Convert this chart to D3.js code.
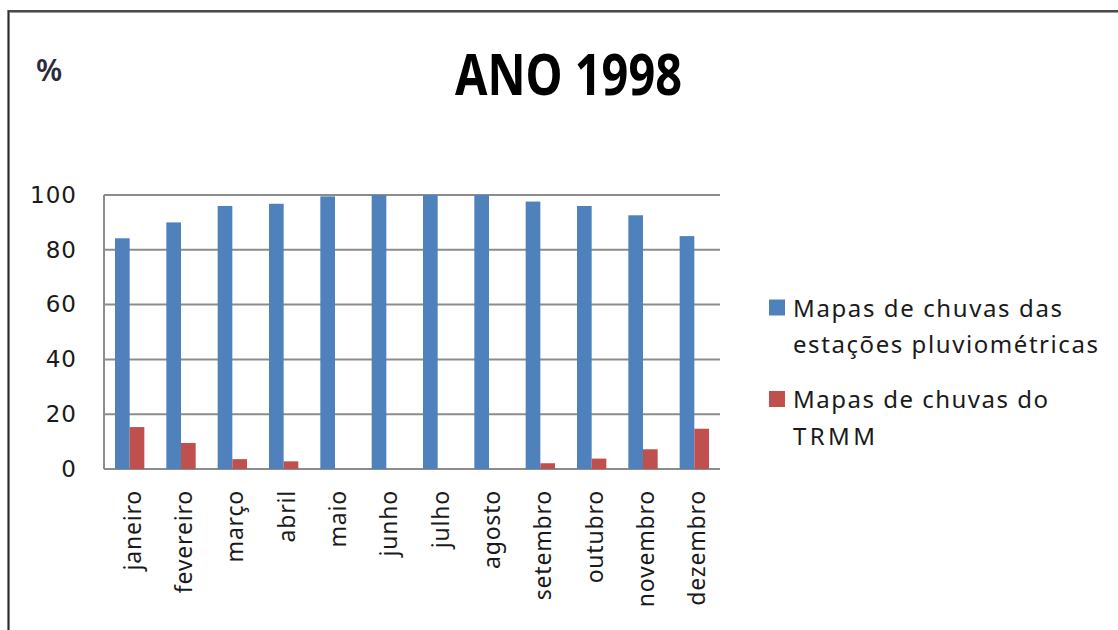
<!DOCTYPE html>
<html>
<head>
<meta charset="utf-8">
<script src="https://cdn.jsdelivr.net/npm/d3@7"></script>
<style>
  html, body { margin: 0; padding: 0; background: #fff; }
  svg { display: block; }
</style>
</head>
<body>
<svg id="chart" width="1118" height="630"></svg>
<script>
// Monthly share (%) of rainfall maps by source, 1998
const months = ["janeiro", "fevereiro", "março", "abril", "maio", "junho",
                "julho", "agosto", "setembro", "outubro", "novembro", "dezembro"];
const seriesNames = ["Mapas de chuvas das estações pluviométricas", "Mapas de chuvas do TRMM"];
const estacoes = [84.2, 90.0, 96.0, 96.8, 99.5, 100, 100, 100, 97.6, 96.0, 92.6, 85.0];
const trmm     = [15.3, 9.5, 3.6, 2.8, 0, 0, 0, 0, 2.1, 3.8, 7.2, 14.7];
const yTicks = [0, 20, 40, 60, 80, 100];
const legendLines = [["Mapas de chuvas das", "estações pluviométricas"],
                     ["Mapas de chuvas do", "TRMM"]];
const colors = ["#4f81bd", "#c0504d"];

const svg = d3.select("#chart");

// outer chart frame
svg.append("rect").attr("x", 8.5).attr("y", 11.5).attr("width", 1200).attr("height", 700)
  .attr("fill", "none").attr("stroke", "#9a9a9a").attr("stroke-width", 3);
svg.append("rect").attr("x", 8.5).attr("y", 11).attr("width", 1200).attr("height", 700)
  .attr("fill", "none").attr("stroke", "#2a2a2a").attr("stroke-width", 1.4);

const x0 = d3.scaleBand().domain(months).range([104, 720]).padding(0);
const x1 = d3.scaleBand().domain([0, 1]).range([0, x0.bandwidth()])
  .paddingInner(0).paddingOuter(0.75);
const y = d3.scaleLinear().domain([0, 100]).range([469, 195]);

// gridlines
svg.append("g").selectAll("line").data(yTicks).join("line")
  .attr("x1", 104).attr("x2", 720)
  .attr("y1", d => y(d)).attr("y2", d => y(d))
  .attr("stroke", "#8c8c8c").attr("stroke-width", 2);

// value axis line
svg.append("line").attr("x1", 104).attr("x2", 104).attr("y1", y(100)).attr("y2", y(0))
  .attr("stroke", "#8c8c8c").attr("stroke-width", 2);

// y tick labels
const yAxis = d3.axisLeft(y).tickValues(yTicks).tickSize(0).tickPadding(0);
const gy = svg.append("g").attr("transform", "translate(77,0)").call(yAxis);
gy.select(".domain").remove();
gy.selectAll("text")
  .attr("font-family", "DejaVu Sans").attr("font-size", 23)
  .attr("letter-spacing", 1).attr("fill", "#1a1a1a");

// bars
const seriesData = [estacoes, trmm];
seriesData.forEach((vals, si) => {
  svg.append("g").selectAll("rect").data(vals).join("rect")
    .attr("x", (d, i) => x0(months[i]) + x1(si))
    .attr("width", x1.bandwidth())
    .attr("y", d => y(d))
    .attr("height", d => y(0) - y(d))
    .attr("fill", colors[si]);
});

// category labels (rotated)
const xAxis = d3.axisBottom(x0).tickSize(0).tickPadding(0);
const gx = svg.append("g").attr("transform", "translate(0,490)").call(xAxis);
gx.select(".domain").remove();
gx.selectAll("text")
  .attr("font-family", "Noto Sans").attr("font-size", 23)
  .attr("letter-spacing", 0.8).attr("fill", "#1a1a1a")
  .attr("text-anchor", "end")
  .attr("dy", null).attr("y", 0)
  .attr("transform", "rotate(-90) translate(0,11)");

// title and unit
svg.append("text").attr("x", 455).attr("y", 95)
  .attr("font-family", "Noto Sans").attr("font-weight", "bold").attr("font-size", 57)
  .attr("textLength", 227).attr("lengthAdjust", "spacingAndGlyphs")
  .attr("fill", "#000").text("ANO 1998");
svg.append("text").attr("x", 36).attr("y", 81)
  .attr("font-family", "Noto Sans").attr("font-weight", 600).attr("font-size", 30)
  .attr("fill", "#2b2b3a").text("%");

// legend
const legendBase = [316.5, 408];
const legendWidths = [[269, 305], [255, 82]];
legendLines.forEach((lines, si) => {
  svg.append("rect").attr("x", 769).attr("y", legendBase[si] - 17)
    .attr("width", 16).attr("height", 16).attr("fill", colors[si]);
  lines.forEach((t, li) => {
    svg.append("text").attr("x", 793).attr("y", legendBase[si] + li * 36.5)
      .attr("font-family", "Noto Sans").attr("font-size", 24)
      .attr("textLength", legendWidths[si][li]).attr("lengthAdjust", "spacing")
      .attr("fill", "#1a1a1a").text(t);
  });
});
</script>
</body>
</html>
